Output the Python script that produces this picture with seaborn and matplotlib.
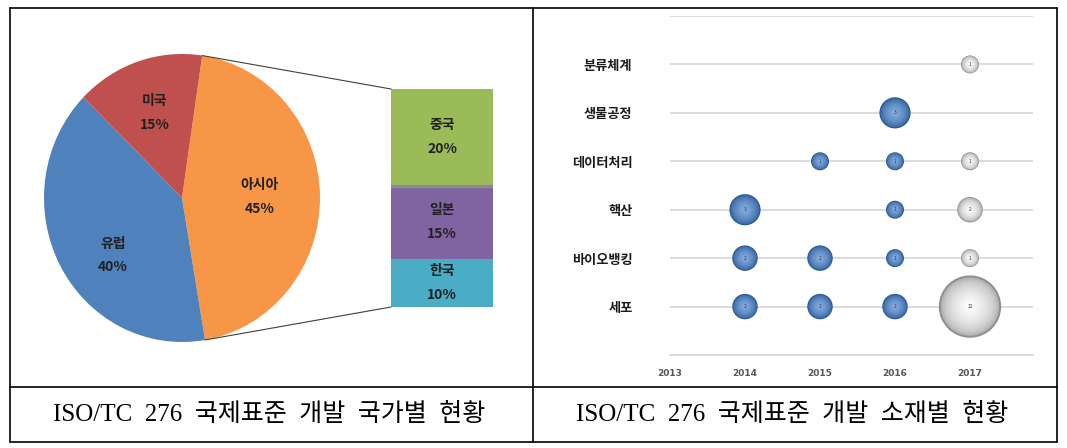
import numpy as np
import pandas as pd
import seaborn as sns
import matplotlib.pyplot as plt
from matplotlib.lines import Line2D
from matplotlib.patches import ConnectionPatch
from matplotlib.colors import to_rgb

# pie: regions
regions = ['아시아', '유럽', '미국']
region_share = [45, 40, 15]
region_colors = ['#F79646', '#4F81BD', '#C0504D']

# bar: breakdown of Asia
asia = ['한국', '일본', '중국']
asia_share = [10, 15, 20]
asia_colors = ['#4BACC6', '#8064A2', '#9BBB59']

# bubble chart
materials = ['세포', '바이오뱅킹', '핵산', '데이터처리', '생물공정', '분류체계']
years = [2013, 2014, 2015, 2016, 2017]
bubble_item = ['세포', '세포', '세포', '세포',
               '바이오뱅킹', '바이오뱅킹', '바이오뱅킹', '바이오뱅킹',
               '핵산', '핵산', '핵산',
               '데이터처리', '데이터처리', '데이터처리',
               '생물공정', '분류체계']
bubble_year = [2014, 2015, 2016, 2017,
               2014, 2015, 2016, 2017,
               2014, 2016, 2017,
               2015, 2016, 2017,
               2016, 2017]
bubble_count = [2, 2, 2, 12,
                2, 2, 1, 1,
                3, 1, 2,
                1, 1, 1,
                3, 1]

caption_left = 'ISO/TC  276  국제표준  개발  국가별  현황'
caption_right = 'ISO/TC  276  국제표준  개발  소재별  현황'

sns.set_theme(style='white')
plt.rcParams['font.family'] = ['Noto Sans CJK KR', 'DejaVu Sans']

W, H = 1067, 448
fig = plt.figure(figsize=(W / 100, H / 100), dpi=100)
fig.patch.set_facecolor('white')


def box(x0, y0, x1, y1):
    # pixel box (top-left origin) -> figure fraction rect
    return [x0 / W, 1 - y1 / H, (x1 - x0) / W, (y1 - y0) / H]


# ---- pie ----
ax_pie = fig.add_axes(box(44, 54, 320, 342))
start = 90 - 8.4
wedges, _ = ax_pie.pie(region_share, colors=region_colors, startangle=start,
                       counterclock=False, radius=1,
                       wedgeprops=dict(linewidth=0))
ax_pie.set_aspect('auto')
ax_pie.set_xlim(-1, 1)
ax_pie.set_ylim(-1, 1)
ax_pie.axis('off')
label_tweak = {'아시아': (0, 0.56), '유럽': (11, 0.64), '미국': (0, 0.62)}
for w, name, val in zip(wedges, regions, region_share):
    dang, r = label_tweak[name]
    mid = np.deg2rad((w.theta1 + w.theta2) / 2 + dang)
    ax_pie.text(r * np.cos(mid), r * np.sin(mid), f'{name}\n{val}%',
                ha='center', va='center', fontsize=10, fontweight='bold',
                color='#202020', linespacing=1.9)

# ---- stacked bar ----
ax_bar = fig.add_axes(box(391, 89, 493, 307))
bottom = 0
for name, val, col in zip(asia, asia_share, asia_colors):
    ax_bar.bar(0, val, bottom=bottom, width=1, color=col, linewidth=0)
    ax_bar.text(0, bottom + val / 2, f'{name}\n{val}%', ha='center',
                va='center', fontsize=10, fontweight='bold', color='#202020',
                linespacing=1.9)
    bottom += val
ax_bar.axhline(asia_share[0] + asia_share[1], color='#8C8C8C', lw=2.5)
ax_bar.set_xlim(-0.5, 0.5)
ax_bar.set_ylim(0, bottom)
ax_bar.axis('off')

# connectors: edges of the Asia wedge -> bar corners
asia_wedge = wedges[0]
for ang, yb in [(asia_wedge.theta2, bottom), (asia_wedge.theta1, 0)]:
    a = np.deg2rad(ang)
    con = ConnectionPatch(xyA=(np.cos(a), np.sin(a)), coordsA=ax_pie.transData,
                          xyB=(-0.5, yb), coordsB=ax_bar.transData,
                          color='#404040', lw=0.8)
    fig.add_artist(con)

# ---- bubble chart ----
ax_b = fig.add_axes(box(670, 16, 1033, 355))
df = pd.DataFrame({'item': bubble_item, 'year': bubble_year, 'count': bubble_count})
df['pos'] = df['item'].map({m: i + 1 for i, m in enumerate(materials)})
df['kind'] = np.where(df['year'] == 2017, 'plan', 'done')

for yv in range(1, len(materials) + 2):
    ax_b.axhline(yv, color='#D9D9D9', lw=1.3, zorder=0)


def blend(c0, c1, t):
    a, b = np.array(to_rgb(c0)), np.array(to_rgb(c1))
    return tuple(a + (b - a) * t)


# sphere-like shading: many concentric layers from edge colour to centre colour
k = (18 * 0.72) ** 2
n_layers = 14
for i in range(n_layers):
    t = i / (n_layers - 1)
    f = 1 - 0.85 * t
    pal = {'done': blend('#2A5896', '#80A9DD', t ** 0.6),
           'plan': blend('#8F8F8F', '#FAFAFA', t ** 0.4)}
    sns.scatterplot(data=df, x='year', y='pos', hue='kind', palette=pal,
                    size='count', sizes=(k * f * f, 12 * k * f * f),
                    size_norm=(1, 12), linewidth=0, legend=False,
                    ax=ax_b, zorder=3)
for _, row in df.iterrows():
    ax_b.text(row['year'], row['pos'], str(row['count']), ha='center',
              va='center', fontsize=3.5, color='#333333', zorder=5)

ax_b.set_xlim(years[0], 2017.84)
ax_b.set_ylim(0, len(materials) + 1)
ax_b.set_xticks(years)
ax_b.set_xticklabels([str(y) for y in years], fontsize=6.5,
                     fontweight='bold', color='#555555', family='DejaVu Sans')
ax_b.set_yticks(range(1, len(materials) + 1))
ax_b.set_yticklabels(materials, fontsize=9.5, fontweight='bold', color='#1A1A1A')
ax_b.set_xlabel('')
ax_b.set_ylabel('')
ax_b.tick_params(axis='y', length=0, pad=27)
ax_b.tick_params(axis='x', length=3, color='#D9D9D9', pad=7)
for s in ['top', 'right', 'left']:
    ax_b.spines[s].set_visible(False)
ax_b.spines['bottom'].set_color('#D9D9D9')
ax_b.spines['bottom'].set_linewidth(1.3)
ax_b.set_facecolor('none')

# ---- table frame and captions ----
def line(x0, y0, x1, y1):
    fig.add_artist(Line2D([x0 / W, x1 / W], [1 - y0 / H, 1 - y1 / H],
                          color='black', lw=1.2, transform=fig.transFigure))

line(10, 8, 1057, 8)
line(10, 442, 1057, 442)
line(10, 8, 10, 442)
line(1057, 8, 1057, 442)
line(533, 8, 533, 442)
line(10, 387, 1057, 387)

cap_font = ['Liberation Serif', 'Noto Sans CJK KR']
fig.text(269 / W, 1 - 414 / H, caption_left, ha='center', va='center',
         fontsize=18, family=cap_font, color='black')
fig.text(792 / W, 1 - 414 / H, caption_right, ha='center', va='center',
         fontsize=18, family=cap_font, color='black')

fig.savefig('out.png', dpi=100, facecolor='white')
